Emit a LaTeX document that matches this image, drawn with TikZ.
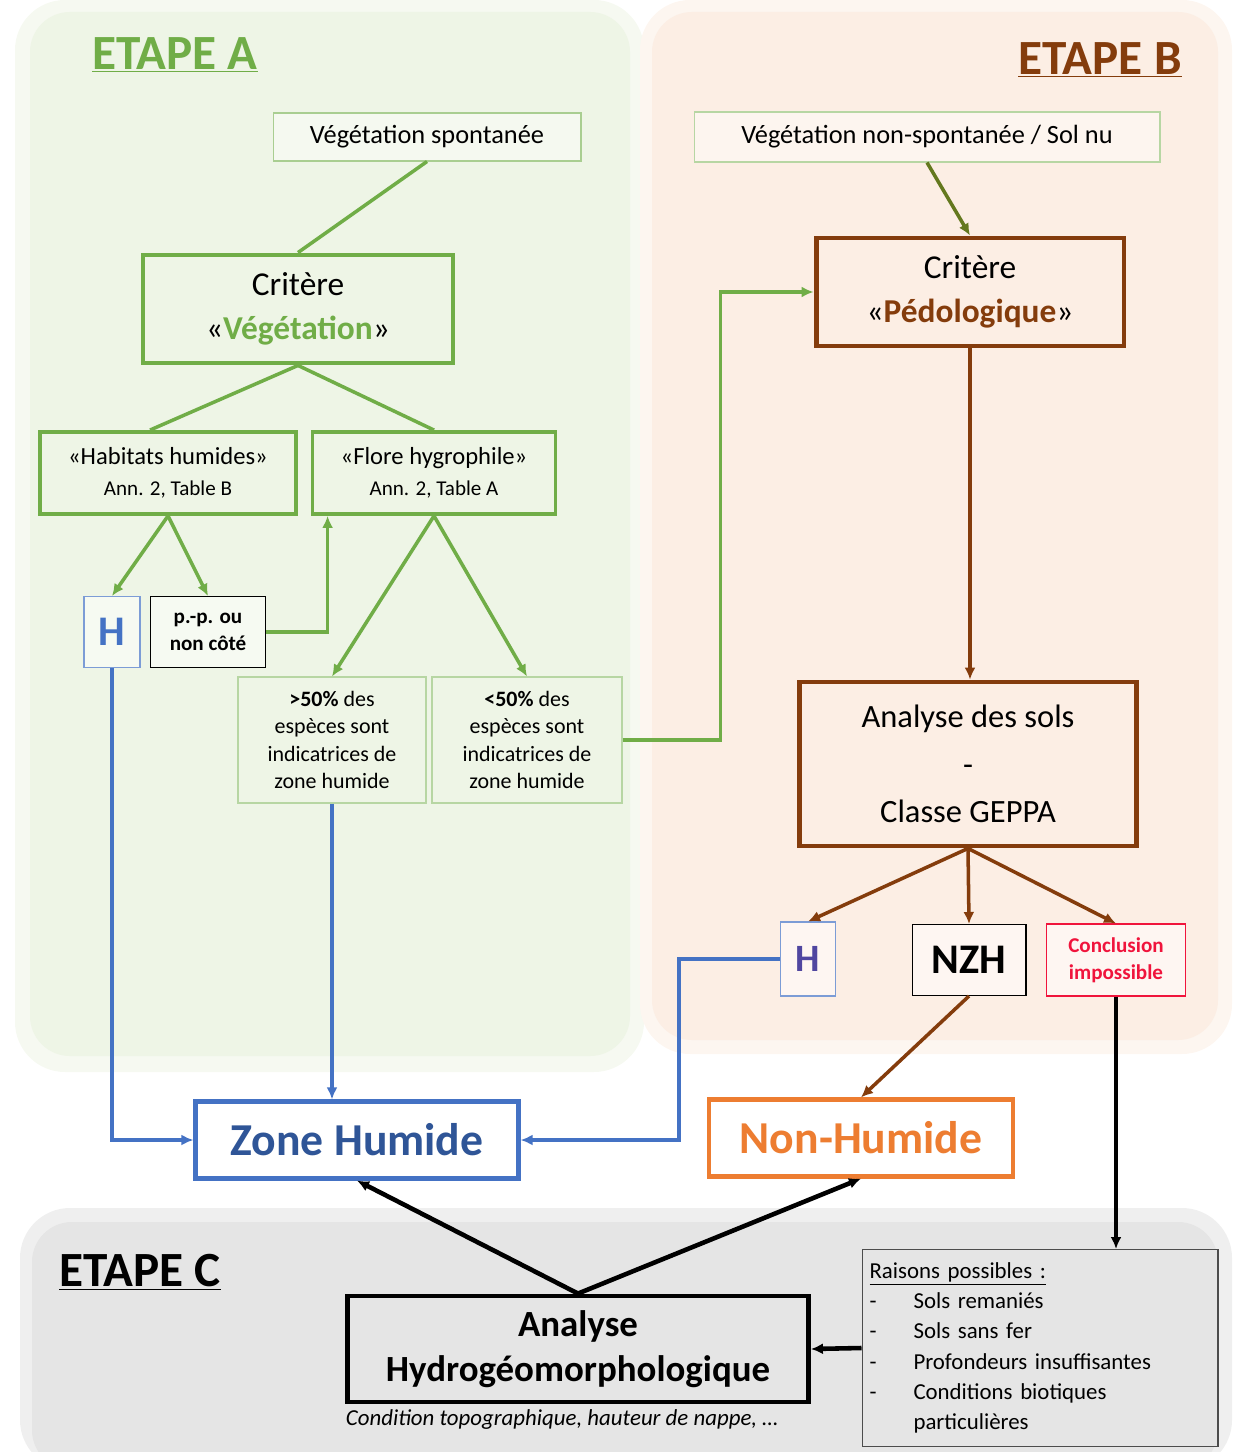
\documentclass[tikz,border=0pt]{standalone}
\usepackage{fontspec}
\setmainfont{Carlito}
\usetikzlibrary{positioning, arrows.meta, calc}
\definecolor{etGreen}{RGB}{112,173,71}
\definecolor{etOlive}{RGB}{100,120,30}
\definecolor{etBrown}{RGB}{132,60,12}
\definecolor{etBlue}{RGB}{68,114,196}
\definecolor{etNavy}{RGB}{47,85,151}
\definecolor{etPurple}{RGB}{80,70,160}
\definecolor{etOrange}{RGB}{237,125,49}
\definecolor{etRed}{RGB}{240,20,60}
\definecolor{etLeaf}{RGB}{238,245,230}
\definecolor{etPeach}{RGB}{252,238,228}
\definecolor{etFog}{RGB}{229,229,229}

\begin{document}
\begin{tikzpicture}[x=0.02cm, y=-0.02cm, >={Latex[length=2.4mm, width=2.2mm]},
      every node/.style={font=\fontsize{13}{17}\selectfont},
      box/.style={draw, align=center, inner sep=2pt},
      thinbox/.style={box, line width=0.6pt},
      heavybox/.style={box, line width=2.8pt},
      link/.style={line width=2pt},
      title/.style={font=\fontsize{28}{32}\selectfont\bfseries}]
    \useasboundingbox (0,0) rectangle (1242,1452);
    % fonds des etapes (bords adoucis)
    \fill[etLeaf!55, rounded corners=1.0cm]  (15,0)    rectangle (644,1072);
    \fill[etLeaf, rounded corners=0.8cm]     (30,12)   rectangle (630,1056);
    \fill[etPeach!55, rounded corners=1.0cm] (640,0)   rectangle (1232,1054);
    \fill[etPeach, rounded corners=0.8cm]    (652,12)  rectangle (1218,1040);
    \fill[etFog!60, rounded corners=1.0cm]   (20,1208) rectangle (1232,1470);
    \fill[etFog, rounded corners=0.8cm]      (32,1222) rectangle (1218,1470);
    \node[title, text=etGreen] (titA) at (175,55)   {\underline{ETAPE A}};
    \node[title, text=etBrown] (titB) at (1100,60)  {\underline{ETAPE B}};
    \node[title]               (titC) at (140,1272) {\underline{ETAPE C}};

    % etape A
    \node[thinbox, draw=etGreen!60, fill=white!40!etLeaf, minimum width=6.16cm,
          minimum height=0.96cm, font=\fontsize{15}{18}\selectfont]
          (vegsp) at (427,137) {Végétation spontanée};
    \node[heavybox, draw=etGreen, minimum width=6.2cm, minimum height=2.16cm,
          font=\fontsize{19}{25}\selectfont]
          (critveg) at (298,309) {Critère\\«\textbf{\textcolor{etGreen}{Végétation}}»};
    \node[heavybox, draw=etGreen, line width=2.2pt, minimum width=5.12cm, minimum height=1.64cm,
          font=\fontsize{14}{17.5}\selectfont]
          (habitats) at (168,473) {«Habitats humides»\\{\fontsize{12}{14}\selectfont Ann. 2, Table B}};
    \node[heavybox, draw=etGreen, line width=2.2pt, minimum width=4.86cm, minimum height=1.64cm,
          font=\fontsize{14}{17.5}\selectfont]
          (flore) at (434,473) {«Flore hygrophile»\\{\fontsize{12}{14}\selectfont Ann. 2, Table A}};
    \node[thinbox, draw=etBlue!70, fill=white!50!etLeaf, minimum width=1.12cm, minimum height=1.42cm,
          font=\fontsize{24}{26}\selectfont\bfseries, text=etBlue]
          (hA) at (112,632) {H};
    \node[thinbox, fill=white!50!etLeaf, minimum width=2.3cm, minimum height=1.42cm,
          font=\fontsize{12}{15.3}\selectfont\bfseries]
          (pp) at (208,632) {p.-p. ou\\non côté};
    \node[thinbox, draw=etGreen!50, minimum width=3.76cm, minimum height=2.52cm,
          font=\fontsize{12.5}{15.7}\selectfont]
          (sup) at (332,740) {\textbf{>50\%} des\\espèces sont\\indicatrices de\\zone humide};
    \node[thinbox, draw=etGreen!50, minimum width=3.8cm, minimum height=2.52cm,
          font=\fontsize{12.5}{15.7}\selectfont]
          (inf) at (527,740) {\textbf{<50\%} des\\espèces sont\\indicatrices de\\zone humide};

    % etape B
    \node[thinbox, draw=etGreen!50, fill=white!40!etPeach, minimum width=9.32cm,
          minimum height=1.0cm, font=\fontsize{15}{18}\selectfont]
          (vegnon) at (927,137) {Végétation non-spontanée / Sol nu};
    \node[heavybox, draw=etBrown, minimum width=6.16cm, minimum height=2.16cm,
          font=\fontsize{19}{25}\selectfont]
          (critpedo) at (970,292) {Critère\\«\textbf{\textcolor{etBrown}{Pédologique}}»};
    \node[heavybox, draw=etBrown, minimum width=6.74cm, minimum height=3.28cm,
          font=\fontsize{18.5}{27}\selectfont]
          (sols) at (968,764) {Analyse des sols\\-\\Classe GEPPA};
    \node[thinbox, draw=etBlue!70, fill=white!50!etPeach, minimum width=1.1cm, minimum height=1.48cm,
          font=\fontsize{22}{24}\selectfont\bfseries, text=etPurple]
          (hB) at (808,959) {H};
    \node[thinbox, fill=white!50!etPeach, minimum width=2.28cm, minimum height=1.42cm,
          font=\fontsize{24}{26}\selectfont\bfseries]
          (nzh) at (969,960) {NZH};
    \node[thinbox, draw=etRed, fill=white!50!etPeach, minimum width=2.78cm, minimum height=1.44cm,
          font=\fontsize{12}{15.3}\selectfont\bfseries, text=etRed]
          (concl) at (1116,960) {Conclusion\\impossible};

    % resultats
    \node[heavybox, draw=etBlue, line width=2.4pt, fill=white, minimum width=6.46cm,
          minimum height=1.54cm, font=\fontsize{26}{28}\selectfont\bfseries, text=etNavy]
          (zone) at (357,1140) {Zone Humide};
    \node[heavybox, draw=etOrange, line width=2.4pt, fill=white, minimum width=6.08cm,
          minimum height=1.54cm, font=\fontsize{26}{28}\selectfont\bfseries, text=etOrange]
          (nonhum) at (861,1138) {Non-Humide};

    % etape C
    \node[heavybox, minimum width=9.22cm, minimum height=2.12cm,
          font=\fontsize{21}{25.5}\selectfont\bfseries]
          (hydro) at (578,1349) {Analyse\\Hydrogéomorphologique};
    \node[font=\fontsize{13}{15}\selectfont\itshape]
          (hydrocap) at (562,1420) {Condition topographique, hauteur de nappe, …};
    \node[thinbox, draw=black!70, fill=etFog, minimum width=7.12cm, minimum height=3.94cm,
          text width=6.82cm, align=left, inner sep=0.15cm, font=\fontsize{13}{17.2}\selectfont]
          (raisons) at (1040,1348) {\underline{Raisons possibles :}\\
            \makebox[0.88cm][l]{-}Sols remaniés\\
            \makebox[0.88cm][l]{-}Sols sans fer\\
            \makebox[0.88cm][l]{-}Profondeurs insuffisantes\\
            \makebox[0.88cm][l]{-}Conditions biotiques\\
            \hspace*{0.88cm}particulières};

    % liaisons
    \draw[link, color=etGreen]        (vegsp.south) -- (critveg.north);
    \draw[->, link, color=etOlive]    (vegnon.south) -- (critpedo.north);
    \draw[link, color=etGreen]        (critveg.south) -- ([xshift=-0.36cm]habitats.north);
    \draw[link, color=etGreen]        (critveg.south) -- (flore.north);
    \draw[->, link, color=etGreen]    (habitats.south) -- (hA.north);
    \draw[->, link, color=etGreen]    (habitats.south) -- (pp.north);
    \draw[->, link, color=etGreen]    (pp.east) -| ([xshift=0.34cm]flore.south west);
    \draw[->, link, color=etGreen]    (flore.south) -- (sup.north);
    \draw[->, link, color=etGreen]    (flore.south) -- (inf.north);
    \draw[->, link, color=etGreen]    (inf.east) -- ++(98,0) |- (critpedo.west);
    \draw[->, link, color=etBrown]    (critpedo.south) -- (critpedo.south |- sols.north);
    \draw[->, link, color=etBrown]    (sols.south) -- (hB.north);
    \draw[->, link, color=etBrown]    (sols.south) -- (nzh.north);
    \draw[->, link, color=etBrown]    (sols.south) -- (concl.north);
    \draw[->, link, color=etBlue]     (hA.south) |- (zone.west);
    \draw[->, link, color=etBlue]     (sup.south) -- (sup.south |- zone.north);
    \draw[->, link, color=etBlue]     (hB.west) -- ++(-101,0) |- (zone.east);
    \draw[->, link, color=etBrown]    (nzh.south) -- (nonhum.north);
    \draw[->, line width=2.6pt]       (concl.south) -- (concl.south |- raisons.north);
    \draw[->, line width=2.6pt]       (hydro.north) -- (zone.south);
    \draw[->, line width=2.6pt]       (hydro.north) -- (nonhum.south);
    \draw[->, line width=2.6pt]       (raisons.west) -- (hydro.east);
  \end{tikzpicture}
\end{document}
